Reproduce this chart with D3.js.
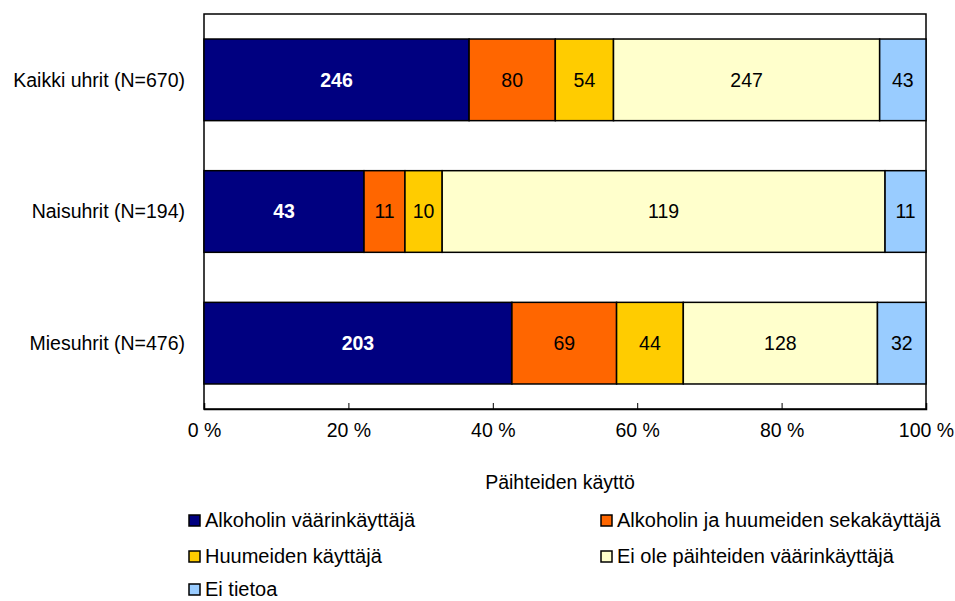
<!DOCTYPE html>
<html>
<head>
<meta charset="utf-8">
<script src="https://cdn.jsdelivr.net/npm/d3@7"></script>
<style>
  body { margin: 0; background: #fff; }
  text { font-family: "Liberation Sans", Arial, sans-serif; }
</style>
</head>
<body>
<div id="chart"></div>
<script>
// data
var categories = ["Kaikki uhrit (N=670)", "Naisuhrit (N=194)", "Miesuhrit (N=476)"];
var seriesNames = ["Alkoholin väärinkäyttäjä", "Alkoholin ja huumeiden sekakäyttäjä",
  "Huumeiden käyttäjä", "Ei ole päihteiden väärinkäyttäjä", "Ei tietoa"];
var alkoholi = [246, 43, 203];
var seka = [80, 11, 69];
var huumeet = [54, 10, 44];
var eiOle = [247, 119, 128];
var eiTietoa = [43, 11, 32];
var xTicks = [0, 0.2, 0.4, 0.6, 0.8, 1];
var colors = ["#000080", "#FF6600", "#FFCC00", "#FFFFCC", "#99CCFF"];

var svgWidth = 955, svgHeight = 601;
var margin = {top: 14, left: 204, right: 29, bottom: 192};
var width = svgWidth - margin.left - margin.right;
var height = svgHeight - margin.top - margin.bottom;
var fontSize = "19.5px";

var svg = d3.select("#chart").append("svg")
  .attr("width", svgWidth)
  .attr("height", svgHeight);

var chart = svg.append("g")
  .attr("transform", `translate(${margin.left},${margin.top})`);

// build rows with percentages
var seriesData = [alkoholi, seka, huumeet, eiOle, eiTietoa];
var rows = categories.map(function(c, i) {
  var row = {cat: c};
  var total = d3.sum(seriesData, function(s) { return s[i]; });
  seriesNames.forEach(function(n, j) {
    row[n] = seriesData[j][i] / total;
    row["n_" + j] = seriesData[j][i];
  });
  return row;
});

var stacked = d3.stack().keys(seriesNames)(rows);

var x = d3.scaleLinear().domain([0, 1]).range([0, width]);
var y = d3.scaleBand().domain(categories).range([0, height])
  .paddingInner(0.38).paddingOuter(0.19);

// plot frame
chart.append("rect")
  .attr("width", width).attr("height", height)
  .attr("fill", "none").attr("stroke", "#000").attr("stroke-width", 1.5);

// bars
var layers = chart.selectAll(".layer")
  .data(stacked)
  .enter().append("g")
  .attr("class", "layer")
  .attr("fill", function(d, i) { return colors[i]; });

layers.selectAll("rect")
  .data(function(d) { return d; })
  .enter().append("rect")
  .attr("x", function(d) { return x(d[0]); })
  .attr("y", function(d) { return y(d.data.cat); })
  .attr("width", function(d) { return x(d[1]) - x(d[0]); })
  .attr("height", y.bandwidth())
  .attr("stroke", "#000")
  .attr("stroke-width", 1.5);

// value labels
layers.each(function(s, j) {
  d3.select(this).selectAll("text")
    .data(s)
    .enter().append("text")
    .attr("x", function(d) { return (x(d[0]) + x(d[1])) / 2; })
    .attr("y", function(d) { return y(d.data.cat) + y.bandwidth() / 2; })
    .attr("dy", "0.35em")
    .attr("text-anchor", "middle")
    .style("font-size", fontSize)
    .style("font-weight", j == 0 ? "bold" : "normal")
    .attr("fill", j == 0 ? "#fff" : "#000")
    .text(function(d) { return d.data["n_" + j]; });
});

// x axis
var bottomAxis = d3.axisBottom(x)
  .tickValues(xTicks)
  .tickSize(-6)
  .tickPadding(14)
  .tickFormat(function(d) { return Math.round(d * 100) + " %"; });

var xAxis = chart.append("g")
  .attr("transform", `translate(0,${height})`)
  .call(bottomAxis);
xAxis.select(".domain").attr("stroke-width", 1.5);
xAxis.selectAll(".tick line").attr("stroke-width", 1);
xAxis.selectAll("text")
  .style("font-size", fontSize)
  .style("font-family", "Liberation Sans, Arial, sans-serif")
  .attr("fill", "#000");

// category labels
chart.selectAll(".cat")
  .data(categories)
  .enter().append("text")
  .attr("class", "cat")
  .attr("x", -19)
  .attr("y", function(d) { return y(d) + y.bandwidth() / 2; })
  .attr("dy", "0.35em")
  .attr("text-anchor", "end")
  .style("font-size", fontSize)
  .text(function(d) { return d; });

// axis title
svg.append("text")
  .attr("x", 560)
  .attr("y", 489)
  .attr("text-anchor", "middle")
  .style("font-size", fontSize)
  .text("Päihteiden käyttö");

// legend
var legendPos = [[188, 520], [600, 520], [188, 556], [600, 556], [188, 589]];
var legend = svg.selectAll(".legend")
  .data(seriesNames)
  .enter().append("g")
  .attr("class", "legend")
  .attr("transform", function(d, i) { return `translate(${legendPos[i][0]},${legendPos[i][1]})`; });

legend.append("rect")
  .attr("x", 1).attr("y", -5)
  .attr("width", 11).attr("height", 11)
  .attr("fill", function(d, i) { return colors[i]; })
  .attr("stroke", "#000").attr("stroke-width", 1.5);

legend.append("text")
  .attr("x", 17)
  .attr("y", 0)
  .attr("dy", "0.35em")
  .style("font-size", "20px")
  .text(function(d) { return d; });
</script>
</body>
</html>
